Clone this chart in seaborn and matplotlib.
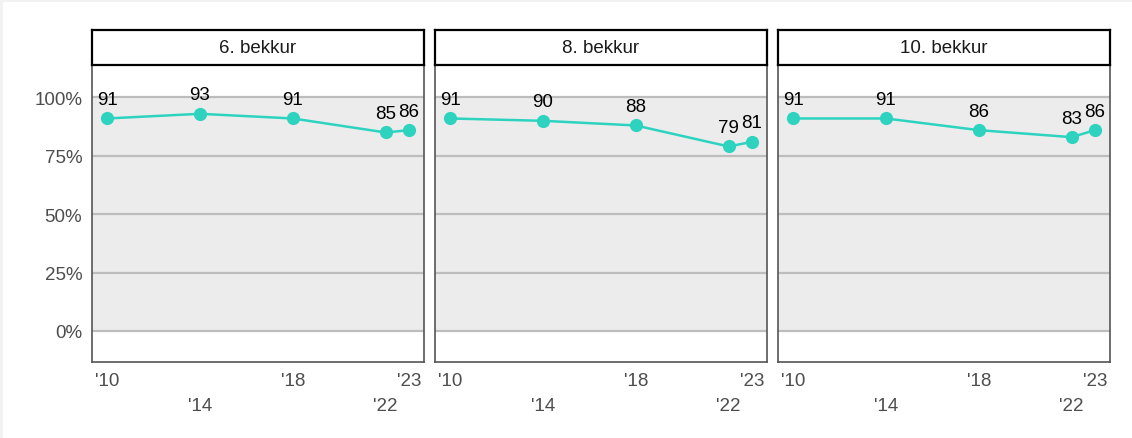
import matplotlib
matplotlib.use("Agg")
import matplotlib.pyplot as plt
import seaborn as sns
import pandas as pd
from matplotlib.patches import Rectangle

# data
years = [2010, 2014, 2018, 2022, 2023]
year_labels = ["'10", "'14", "'18", "'22", "'23"]
grades = ["6. bekkur", "8. bekkur", "10. bekkur"]
grade6 = [91, 93, 91, 85, 86]
grade8 = [91, 90, 88, 79, 81]
grade10 = [91, 91, 86, 83, 86]
y_ticks = [0, 25, 50, 75, 100]

df = pd.DataFrame(
    {
        "year": years * 3,
        "value": grade6 + grade8 + grade10,
        "grade": [g for g in grades for _ in years],
    }
)

sns.set_style("white")
plt.rcParams["font.family"] = ["Liberation Sans", "DejaVu Sans"]

W, H = 1132, 439
fig = plt.figure(figsize=(W / 100, H / 100), dpi=100, facecolor="#f2f2f2")
fig.add_artist(
    Rectangle((3 / W, 0), 1, 1 - 3 / H, transform=fig.transFigure,
              facecolor="white", edgecolor="none", zorder=-10)
)

teal = "#2ed3c0"
lefts = [92, 435, 778]
pw = 332
top_px, bot_px, strip_px = 66, 363, 31

for i, (grade, left) in enumerate(zip(grades, lefts)):
    ax = fig.add_axes([left / W, 1 - bot_px / H, pw / W, (bot_px - top_px) / H])
    sub = df[df["grade"] == grade]

    ax.axhspan(0, 100, color="#ececec", zorder=0, lw=0)
    for t in y_ticks:
        ax.axhline(t, color="#bdbdbd", lw=1.6, zorder=1)

    sns.lineplot(
        data=sub, x="year", y="value", ax=ax, color=teal, lw=1.8,
        marker="o", markersize=9.5, markeredgewidth=0, zorder=3,
    )
    for x, v in zip(sub["year"], sub["value"]):
        ax.annotate(str(v), (x, v), xytext=(0, 7.5), textcoords="offset points",
                    ha="center", va="bottom", fontsize=13.5, color="black",
                    zorder=4)

    ax.set_xlim(2009.35, 2023.65)
    ax.set_ylim(-13.3, 113.9)
    ax.set_xlabel("")
    ax.set_ylabel("")
    ax.set_xticks(years)
    ax.set_xticklabels(year_labels)
    for j, lab in enumerate(ax.get_xticklabels()):
        if j % 2 == 1:
            lab.set_y(-0.085)
    ax.tick_params(axis="x", length=0, pad=7, labelsize=13.5, labelcolor="#4d4d4d")
    ax.set_yticks(y_ticks)
    if i == 0:
        ax.set_yticklabels([f"{t}%" for t in y_ticks])
        ax.tick_params(axis="y", length=0, pad=7, labelsize=13.5, labelcolor="#4d4d4d")
    else:
        ax.tick_params(axis="y", length=0, labelleft=False)
    for s in ax.spines.values():
        s.set_color("#555555")
        s.set_linewidth(1.2)
    ax.spines["top"].set_visible(False)

    # header strip
    hx = fig.add_axes([left / W, 1 - top_px / H, pw / W, (top_px - strip_px) / H])
    hx.set_xticks([])
    hx.set_yticks([])
    hx.set_facecolor("white")
    for s in hx.spines.values():
        s.set_color("black")
        s.set_linewidth(1.6)
    hx.text(0.5, 0.5, grade, ha="center", va="center", fontsize=13.5,
            color="#1a1a1a", transform=hx.transAxes)

fig.savefig("out.png", dpi=100, facecolor=fig.get_facecolor())
